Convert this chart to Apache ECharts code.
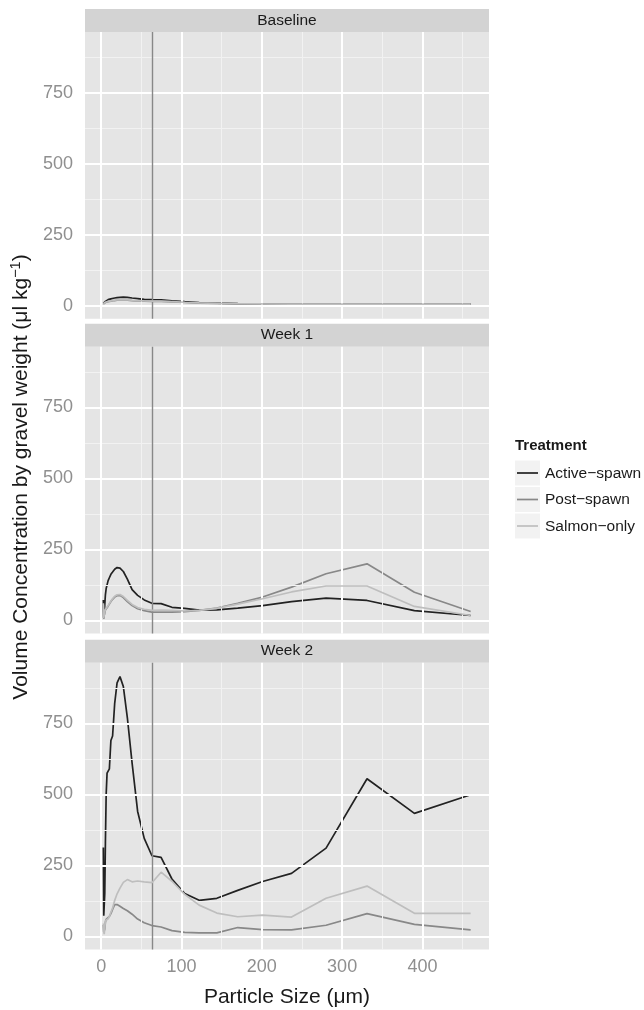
<!DOCTYPE html>
<html><head><meta charset="utf-8">
<script src="https://cdn.jsdelivr.net/npm/echarts@6/dist/echarts.min.js"></script>
<style>html,body{margin:0;padding:0;background:#fff}#c{width:644px;height:1010px}</style>
</head><body><div id="c"></div>
<script>
// ---- data ----
const sizes = [2.72, 3.2, 3.78, 4.46, 5.27, 6.21, 7.33, 8.65, 10.2, 12.1, 14.2, 16.8, 19.8, 23.4, 27.6, 32.6, 38.5, 45.4, 53.6, 63.2, 74.6, 88.1, 104, 122, 144, 170, 201, 237, 280, 331, 390, 460];
const panels = ['Baseline', 'Week 1', 'Week 2'];
const treatments = ['Active\u2212spawn', 'Post\u2212spawn', 'Salmon\u2212only'];

const baselineActive = [8, 3, 8, 12, 15, 17, 19, 21, 22, 24, 25, 27, 28, 29, 30, 29, 27, 25, 22, 21, 20, 17, 14, 11, 9, 7, 6, 5, 5, 5, 5, 5];
const baselinePost   = [6, 2, 6, 9, 11, 12, 13, 14, 15, 16, 17, 18, 19, 19, 19, 19, 18, 17, 16, 15, 15, 13, 11, 9, 8, 7, 6, 5, 5, 5, 5, 5];
const baselineSalmon = [7, 2, 7, 10, 12, 13, 14, 15, 16, 17, 18, 19, 20, 20, 20, 20, 19, 18, 17, 16, 16, 14, 12, 10, 8, 7, 6, 5, 5, 5, 5, 5];

const week1Active = [72, 8, 20, 55, 90, 112, 125, 140, 150, 162, 170, 180, 186, 184, 172, 145, 108, 88, 72, 60, 59, 46, 42, 36, 37, 43, 52, 66, 78, 70, 34, 17];
const week1Post   = [55, 6, 18, 28, 36, 40, 43, 50, 56, 66, 74, 82, 87, 88, 80, 66, 52, 41, 34, 29, 29, 29, 31, 35, 43, 60, 82, 117, 164, 199, 99, 31];
const week1Salmon = [60, 8, 20, 30, 38, 42, 45, 52, 58, 68, 76, 85, 90, 91, 84, 70, 56, 45, 39, 35, 36, 35, 33, 35, 42, 57, 76, 100, 121, 121, 49, 17];

const week2Active = [313, 73, 80, 150, 330, 500, 575, 580, 590, 690, 706, 820, 893, 915, 880, 770, 610, 440, 345, 284, 278, 202, 151, 127, 134, 162, 193, 222, 311, 555, 433, 499];
const week2Post   = [40, 15, 8, 25, 50, 60, 55, 62, 70, 80, 95, 112, 112, 106, 98, 90, 78, 61, 48, 38, 33, 20, 14, 12, 12, 31, 24, 23, 39, 80, 42, 23];
const week2Salmon = [45, 20, 8, 30, 55, 62, 56, 62, 70, 85, 100, 126, 150, 170, 190, 200, 192, 195, 192, 189, 226, 194, 148, 110, 82, 69, 75, 68, 134, 177, 81, 81];

const xMajor = [0, 100, 200, 300, 400];
const xMinor = [50, 150, 250, 350, 450];
const yMajor = [0, 250, 500, 750];
const yMinor = [125, 375, 625, 875];
const boundarySize = 63;

const panelData = [
  [baselineActive, baselinePost, baselineSalmon],
  [week1Active, week1Post, week1Salmon],
  [week2Active, week2Post, week2Salmon]
];

// ---- style / layout ----
const FONT = "'Liberation Sans', Arial, Helvetica, sans-serif";
const colors = ['#222222', '#888888', '#bebebe'];
const gridTops = [32, 346.7, 662.7];
const gridH = 286.7, gridL = 85, gridW = 404;
const stripH = 23;
const X_MIN = -20.14, X_MAX = 482.86, Y_MIN = -46, Y_MAX = 964;
const tickColor = '#8f8f8f';

const grids = [], xAxes = [], yAxes = [], series = [], graphics = [];

panels.forEach((name, i) => {
  const bottom = i === panels.length - 1;
  grids.push({ left: gridL, top: gridTops[i], width: gridW, height: gridH, show: true, backgroundColor: '#e5e5e5', borderWidth: 0, containLabel: false });
  xAxes.push({
    type: 'value', gridIndex: i, min: X_MIN, max: X_MAX,
    axisLine: { show: false }, splitLine: { show: false },
    axisTick: { show: bottom, customValues: xMajor, length: 5, lineStyle: { color: tickColor, width: 1 } },
    axisLabel: { show: bottom, customValues: xMajor, color: tickColor, fontSize: 18, fontFamily: FONT, margin: 9 },
    name: bottom ? 'Particle Size (\u03bcm)' : '', nameLocation: 'middle', nameGap: 37,
    nameTextStyle: { fontSize: 21, color: '#1a1a1a', fontFamily: FONT }
  });
  yAxes.push({
    type: 'value', gridIndex: i, min: Y_MIN, max: Y_MAX,
    axisLine: { show: false }, splitLine: { show: false },
    axisTick: { show: true, customValues: yMajor, length: 5, lineStyle: { color: tickColor, width: 1 } },
    axisLabel: { show: true, customValues: yMajor, color: tickColor, fontSize: 18, fontFamily: FONT, margin: 12 }
  });
  const ml = [];
  xMinor.forEach(v => ml.push({ xAxis: v, lineStyle: { color: '#f2f2f2', width: 1, type: 'solid' } }));
  yMinor.forEach(v => ml.push({ yAxis: v, lineStyle: { color: '#f2f2f2', width: 1, type: 'solid' } }));
  xMajor.forEach(v => ml.push({ xAxis: v, lineStyle: { color: '#ffffff', width: 2, type: 'solid' } }));
  yMajor.forEach(v => ml.push({ yAxis: v, lineStyle: { color: '#ffffff', width: 2, type: 'solid' } }));
  ml.push({ xAxis: boundarySize, lineStyle: { color: '#888888', width: 1.4, type: 'solid' } });
  series.push({
    type: 'line', name: 'grid' + i, xAxisIndex: i, yAxisIndex: i, data: [], z: 1, silent: true,
    markLine: { silent: true, symbol: ['none', 'none'], animation: false, label: { show: false },
      lineStyle: { type: 'solid' }, emphasis: { disabled: true }, data: ml }
  });
  treatments.forEach((t, k) => {
    series.push({
      type: 'line', name: t, xAxisIndex: i, yAxisIndex: i, z: 3 + k,
      data: sizes.map((s, j) => [s, panelData[i][k][j]]),
      showSymbol: false, symbol: 'none', silent: true,
      lineStyle: { color: colors[k], width: 1.7 }, itemStyle: { color: colors[k] }
    });
  });
  graphics.push({ type: 'rect', shape: { x: gridL, y: gridTops[i] - stripH, width: gridW, height: stripH }, style: { fill: '#d3d3d3' } });
  graphics.push({ type: 'text', x: gridL + gridW / 2, y: gridTops[i] - stripH / 2,
    style: { text: name, fill: '#1a1a1a', fontSize: 15.5, fontFamily: FONT, align: 'center', verticalAlign: 'middle' } });
});

// y-axis title
graphics.push({ type: 'text', x: 21, y: 477, rotation: Math.PI / 2,
  style: { text: '{t|Volume Concentration by gravel weight (\u03bcl kg}{s|\u22121}{t|)}', align: 'center', verticalAlign: 'middle',
    rich: { t: { fontSize: 21, fill: '#1a1a1a', fontFamily: FONT, lineHeight: 25 },
            s: { fontSize: 14.5, fill: '#1a1a1a', fontFamily: FONT, verticalAlign: 'top', lineHeight: 25 } } } });

// legend
graphics.push({ type: 'text', x: 515, y: 446, style: { text: 'Treatment', fill: '#1a1a1a', fontSize: 15, fontWeight: 'bold', fontFamily: FONT, verticalAlign: 'middle' } });
treatments.forEach((t, k) => {
  const y0 = 460.5 + k * 26.5;
  graphics.push({ type: 'rect', shape: { x: 515, y: y0, width: 25, height: 25 }, style: { fill: '#f2f2f2' } });
  graphics.push({ type: 'line', shape: { x1: 517, y1: y0 + 12.5, x2: 538, y2: y0 + 12.5 }, style: { stroke: colors[k], lineWidth: 1.7 } });
  graphics.push({ type: 'text', x: 545, y: y0 + 13, style: { text: t, fill: '#1a1a1a', fontSize: 15.5, fontFamily: FONT, verticalAlign: 'middle' } });
});

const chart = echarts.init(document.getElementById('c'), null, { renderer: 'canvas' });
chart.setOption({
  animation: false,
  backgroundColor: '#ffffff',
  grid: grids, xAxis: xAxes, yAxis: yAxes, series: series, graphic: graphics
});
</script></body></html>
